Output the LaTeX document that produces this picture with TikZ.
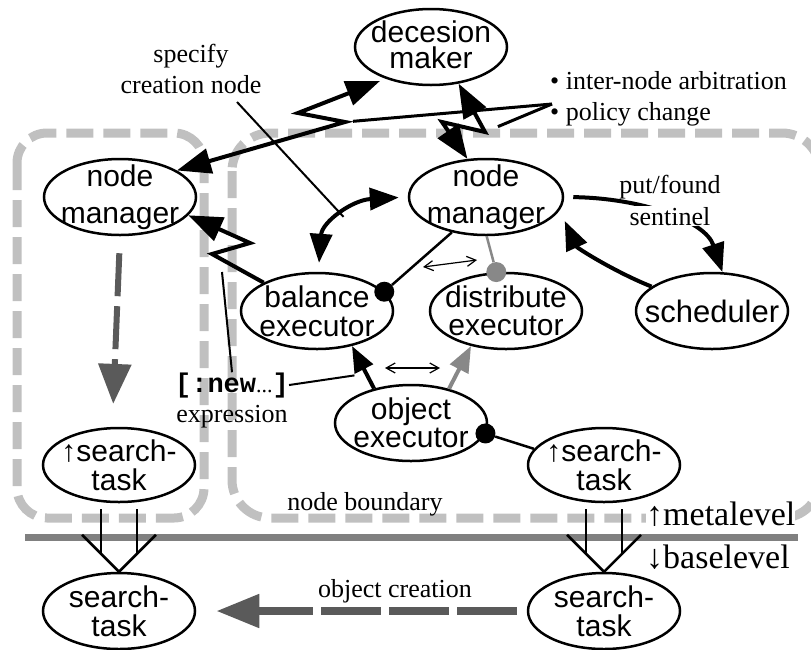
\documentclass[tikz,border=0pt]{standalone}
\usepackage{fontspec}
\setmainfont{Liberation Serif}
\setsansfont{Liberation Sans}
\setmonofont{Liberation Mono}
\usetikzlibrary{arrows.meta,calc,shapes.geometric}
\definecolor{boxgray}{HTML}{C0C0C0}
\definecolor{sepgray}{HTML}{808080}
\definecolor{arrgray}{HTML}{5A5A5A}
\definecolor{midgray}{HTML}{888888}
\tikzset{
  BigTri/.tip={Triangle[length=34pt,width=25pt]},
  MidTri/.tip={Triangle[length=29pt,width=22pt]},
  SmallTri/.tip={Triangle[length=26pt,width=20pt]},
  GrayTri/.tip={Triangle[length=40pt,width=32pt]},
  GrayTriB/.tip={Triangle[length=43pt,width=32pt]},
  ThinBarb/.tip={Straight Barb[length=9pt,width=10pt]},
  elli/.style={draw,fill=white,ellipse,line width=2.5pt,minimum width=152pt,minimum height=76pt,inner sep=0pt},
  etext/.style={font=\sffamily\fontsize{30}{29}\selectfont,align=center,inner sep=0pt},
  lab/.style={font=\rmfamily\fontsize{26}{31}\selectfont,align=center,inner sep=0pt},
  thickln/.style={line width=4pt},
  thinln/.style={line width=2.5pt},
  hair/.style={line width=1.2pt,ThinBarb-ThinBarb},
  dot/.style={circle,fill=black,minimum size=20pt,inner sep=0pt},
  boxline/.style={draw=boxgray,line width=9pt,dash pattern=on 27pt off 10pt},
}
\begin{document}
\begin{tikzpicture}[x=1pt,y=-1pt]
\useasboundingbox (0,0) rectangle (811,649);
% node boundaries and level separator
\draw[boxline,rounded corners=30pt] (17,133) rectangle (204,518);
\draw[boxline,rounded corners=38pt] (232,133) rectangle (820,518);
\draw[sepgray,line width=7pt] (25,537) -- (798,537);

% ellipses
\node[elli,label={[etext,yshift=2pt,font=\sffamily\fontsize{30}{26}\selectfont]center:decesion\\maker}] (dm) at (431,47) {};
\node[elli,label={[etext,font=\sffamily\fontsize{30}{37}\selectfont]center:node\\manager}] (nml) at (120,197) {};
\node[elli,minimum width=154pt,label={[etext,font=\sffamily\fontsize{30}{37}\selectfont]center:node\\manager}] (nmc) at (486,197) {};
\node[elli,label={[etext]center:balance\\executor}] (be) at (317,311) {};
\node[elli,label={[etext,font=\sffamily\fontsize{30}{28}\selectfont]center:distribute\\executor}] (de) at (506,311) {};
\node[elli,label={[etext,font=\sffamily\fontsize{31}{29}\selectfont]center:scheduler}] (sch) at (712,311) {};
\node[elli,label={[etext,font=\sffamily\fontsize{30}{28}\selectfont]center:object\\executor}] (oe) at (411,423) {};
\node[elli,minimum height=74pt,label={[etext]center:↑search-\\task}] (stl) at (119,465) {};
\node[elli,minimum height=74pt,label={[etext]center:↑search-\\task}] (str) at (604,465) {};
\node[elli,label={[etext]center:search-\\task}] (sbl) at (119,611) {};
\node[elli,label={[etext]center:search-\\task}] (sbr) at (604,611) {};

% dots
\node[dot] (bedot) at (be.16) {};
\node[dot,fill=midgray] (dedot) at (de.104) {};
\node[dot] (oedot) at (oe.352) {};

% labels (base anchor = baseline of the last line)
\node[lab,anchor=base] (spec) at (191,93) {specify\\creation node};
\node[lab,align=left,anchor=base west] (pol) at (550,120) {• inter-node arbitration\\• policy change};
\node[lab,anchor=base] (pf) at (670,193) {put/found};
\node[lab,anchor=base] (newc) at (232,392) {\ttfamily\bfseries\fontsize{27}{31}\selectfont [:new\rmfamily\mdseries\fontsize{22}{31}\selectfont...\ttfamily\bfseries\fontsize{27}{31}\selectfont]};
\node[lab,anchor=base] (expr) at (232,422) {expression};
\node[lab,anchor=base] (nb) at (365,510) {node boundary};
\node[lab,anchor=base] (oc) at (395,597) {object creation};
\node[font=\rmfamily\fontsize{34}{40}\selectfont,anchor=base west,inner sep=0pt,fill=white] (ml) at (646,525) {↑metalevel};
\node[font=\rmfamily\fontsize{34}{40}\selectfont,anchor=base west,inner sep=0pt] (bl) at (646,568) {↓baselevel};

% free ends
\coordinate (pc) at (552,104);
\coordinate (sp0) at (237,102);
\coordinate (nf) at (222,272);
\coordinate (ia) at (423,267);
\coordinate (ib) at (477,260);
\coordinate (pa) at (385,368);
\coordinate (pb) at (440,368);

% zigzag arrows to the decision maker
\draw[thickln,BigTri-BigTri,shorten >=6pt] (nml.25) -- (345,122) coordinate (za) -- (298,113) -- (dm.215);
\draw[thickln,BigTri-BigTri] (dm.307) -- (485,132) coordinate (zb) -- (442,122) -- (nmc.116);
\draw[line width=3pt,shorten >=8pt] (pc) -- (za);
\draw[line width=3pt,shorten >=14pt] (pc) -- (zb);

% balance executor <-> node manager
\draw[thickln,MidTri-MidTri,shorten <=9pt,shorten >=9pt] (be.88) .. controls (322,222) and (352,200) .. coordinate[pos=0.5] (cmid) (nmc.west);
\draw[line width=2pt] (sp0) -- (cmid);

% balance executor -> left node manager
\draw[thickln,-BigTri] (be.152) -- (212,254) -- (250,243) -- (nml.345);

% node manager links to executors
\draw[thinln] (nmc.226) -- (bedot);
\draw[thinln,midgray] (nmc.271) -- (dedot);
\draw[hair] (ia) -- (ib);

% node manager <-> scheduler
\draw[thickln,-MidTri,shorten <=9pt] (nmc.east) .. controls (640,198) and (705,220) .. (sch.75);
\node[lab,anchor=base,fill=white,inner sep=1pt] (sent) at (670,225) {sentinel};
\draw[thickln,-MidTri,shorten >=12pt] (sch.158) .. controls (615,272) and (577,248) .. (nmc.350);

% object executor arrows
\draw[thickln,-SmallTri] (oe.137) -- coordinate[pos=0.35] (nx0) (be.315);
\draw[line width=4pt,midgray,-SmallTri] (oe.42) -- (de.225);
\draw[hair] (pa) -- (pb);
\draw[thinln] (oedot) -- (str.167);

% [:new...] pointers
\draw[line width=2pt] (newc.north) -- (nf);
\draw[line width=2pt,shorten >=12pt] (newc.east) -- (nx0);

% left node manager -> search task
\draw[arrgray,line width=6pt,dash pattern=on 43pt off 10pt,-GrayTri,shorten <=17pt,shorten >=23pt] (nml.south) -- (stl.100);

% meta -> base hollow arrows
\foreach \a/\b in {stl/sbl,str/sbr} {
  \draw[line width=2.5pt] ($(\a.south)+(-18,6)$) -- ($(\b.north)+(-18,-18)$);
  \draw[line width=2.5pt] ($(\a.south)+(18,6)$) -- ($(\b.north)+(18,-18)$);
  \draw[line width=2.5pt] ($(\b.north)+(-37,-37)$) -- (\b.north) -- ($(\b.north)+(37,-37)$);
}

% object creation
\draw[arrgray,line width=8pt,dash pattern=on 60pt off 8pt,-GrayTriB,shorten <=10pt,shorten >=20pt] (sbr.west) -- (sbl.east);
\end{tikzpicture}
\end{document}
